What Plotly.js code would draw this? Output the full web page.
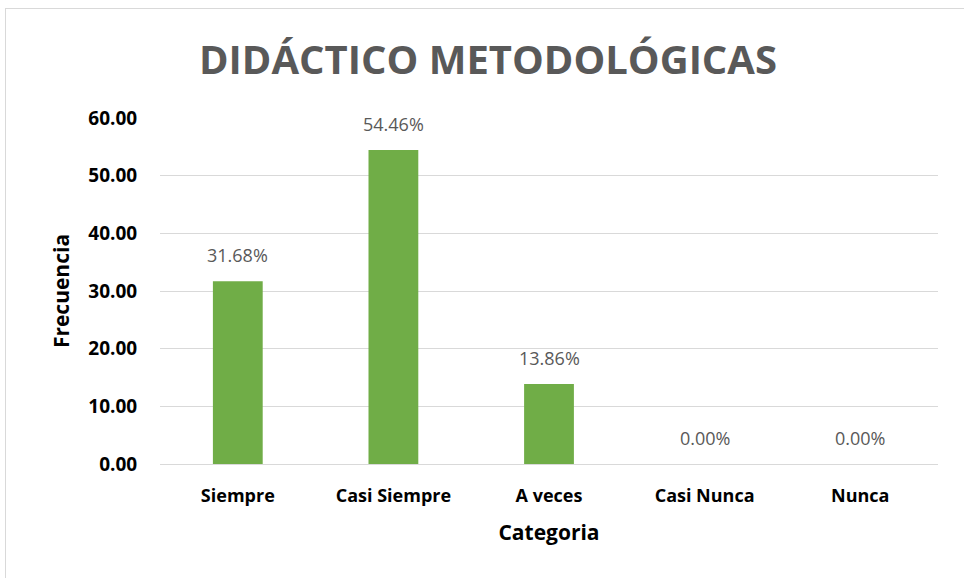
<!DOCTYPE html>
<html>
<head>
<meta charset="utf-8">
<script src="https://cdn.plot.ly/plotly-3.0.1.min.js"></script>
<style>
  html, body { margin: 0; padding: 0; background: #ffffff; }
  #wrap { position: relative; width: 964px; height: 578px; }
  #chart { position: absolute; left: 0; top: 0; width: 964px; height: 578px; }
  #frame { position: absolute; left: 5px; top: 8px; right: 0; bottom: 0;
           border-top: 1px solid #d9d9d9; border-left: 1px solid #d9d9d9; pointer-events: none; }
</style>
</head>
<body>
<div id="wrap">
  <div id="chart"></div>
  <div id="frame"></div>
</div>
<script>
const categories = ["Siempre", "Casi Siempre", "A veces", "Casi Nunca", "Nunca"];
const values = [31.68, 54.46, 13.86, 0.00, 0.00];
const valueLabels = ["31.68%", "54.46%", "13.86%", "0.00%", "0.00%"];
const yTickVals = [0, 10, 20, 30, 40, 50, 60];
const yTickText = ["0.00", "10.00", "20.00", "30.00", "40.00", "50.00", "60.00"];

const fontFamily = "'Open Sans', 'Noto Sans', sans-serif";

const trace = {
  type: "bar",
  x: categories,
  y: values,
  marker: { color: "#70ad47" },
  width: 0.32,
  hoverinfo: "none"
};

const annotations = categories.map((c, i) => ({
  x: c, y: values[i], xref: "x", yref: "y",
  text: valueLabels[i], showarrow: false,
  yanchor: "bottom", yshift: 12,
  font: { family: fontFamily, size: 18, color: "#595959" }
}));

const layout = {
  width: 964, height: 578,
  margin: { l: 160, r: 26, t: 118, b: 114 },
  paper_bgcolor: "#ffffff", plot_bgcolor: "#ffffff",
  showlegend: false,
  title: {
    text: "<b>DIDÁCTICO METODOLÓGICAS</b>",
    x: 488 / 964, xanchor: "center",
    y: 1 - 60 / 578, yanchor: "middle",
    font: { family: fontFamily, size: 40, color: "#595959" }
  },
  xaxis: {
    type: "category",
    showgrid: false, zeroline: false, showline: false,
    ticks: "outside", ticklen: 15, tickcolor: "rgba(0,0,0,0)",
    tickfont: { family: fontFamily, size: 18, color: "#000000", weight: "bold" },
    title: { text: "<b>Categoria</b>", standoff: 19,
             font: { family: fontFamily, size: 21, color: "#000000" } }
  },
  yaxis: {
    range: [0, 60],
    tickvals: yTickVals, ticktext: yTickText,
    showgrid: true, gridcolor: "#d9d9d9", gridwidth: 1,
    zeroline: true, zerolinecolor: "#d9d9d9", zerolinewidth: 1,
    showline: false,
    ticks: "outside", ticklen: 18, tickcolor: "rgba(0,0,0,0)",
    tickfont: { family: fontFamily, size: 19, color: "#000000", weight: "bold" },
    title: { text: "<b>Frecuencia</b>", standoff: 12,
             font: { family: fontFamily, size: 21, color: "#000000" } }
  },
  annotations: annotations
};

Plotly.newPlot("chart", [trace], layout, { displayModeBar: false, staticPlot: true });
</script>
</body>
</html>
